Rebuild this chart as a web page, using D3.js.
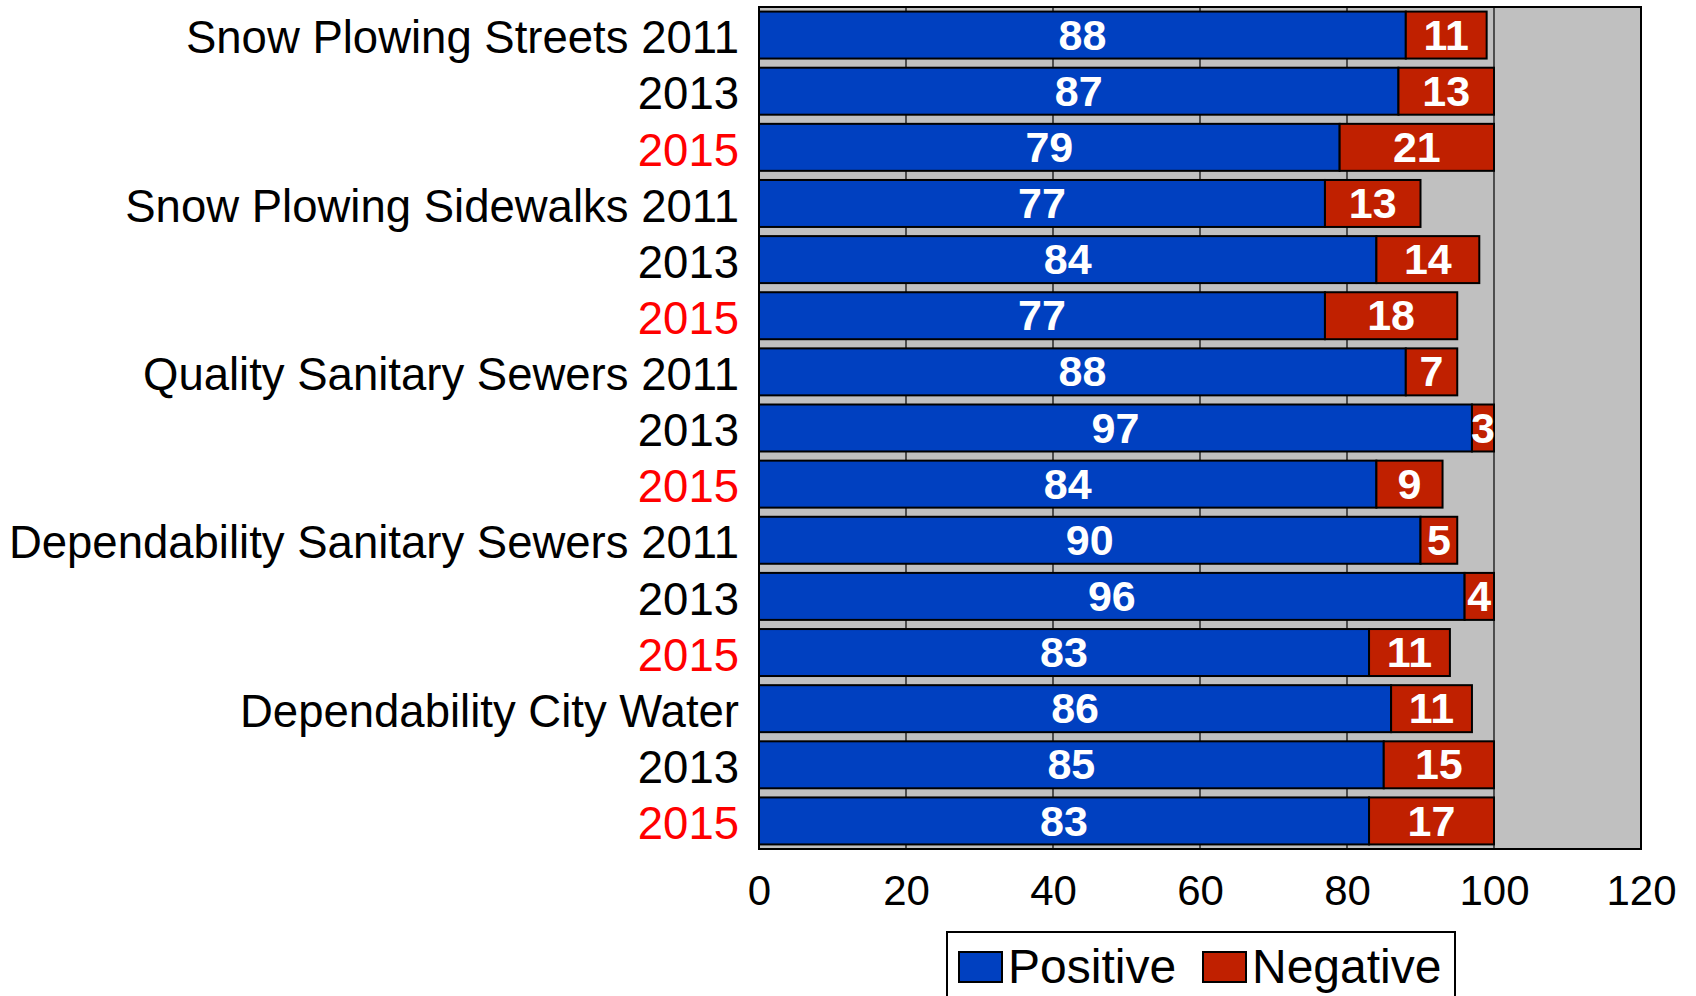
<!DOCTYPE html>
<html>
<head>
<meta charset="utf-8">
<script src="https://cdn.jsdelivr.net/npm/d3@7"></script>
<style>
  html, body { margin: 0; padding: 0; background: #fff; }
  svg { display: block; }
  text { font-family: "Liberation Sans", Arial, sans-serif; }
</style>
</head>
<body>
<svg id="chart" width="1696" height="996"></svg>
<script>
const categories = [
  "Snow Plowing Streets 2011", "2013", "2015",
  "Snow Plowing Sidewalks 2011", "2013", "2015",
  "Quality Sanitary Sewers 2011", "2013", "2015",
  "Dependability Sanitary Sewers 2011", "2013", "2015",
  "Dependability City Water", "2013", "2015"
];
const positive = [88, 87, 79, 77, 84, 77, 88, 97, 84, 90, 96, 83, 86, 85, 83];
const negative = [11, 13, 21, 13, 14, 18, 7, 3, 9, 5, 4, 11, 11, 15, 17];
const xTicks = [0, 20, 40, 60, 80, 100, 120];
const seriesNames = ["Positive", "Negative"];
const seriesColors = ["#0040C0", "#C02000"];

const svg = d3.select("#chart");
const plot = { left: 759, right: 1641, top: 7, bottom: 849 };

const x = d3.scaleLinear().domain([0, 120]).range([plot.left, plot.right]);
const y = d3.scaleBand()
  .domain(d3.range(categories.length))
  .range([plot.top, plot.bottom])
  .paddingInner(0.163)
  .paddingOuter(0.0815);

// plot background
svg.append("rect")
  .attr("x", plot.left).attr("y", plot.top)
  .attr("width", plot.right - plot.left).attr("height", plot.bottom - plot.top)
  .attr("fill", "#C0C0C0");

// gridlines
svg.append("g").selectAll("line")
  .data(xTicks.filter(t => t > 0 && t < 120))
  .join("line")
  .attr("x1", d => x(d)).attr("x2", d => x(d))
  .attr("y1", plot.top).attr("y2", plot.bottom)
  .attr("stroke", "#000").attr("stroke-width", 1.2);

// bars
const rows = categories.map((c, i) => ({ i, c, pos: positive[i], neg: negative[i] }));
const g = svg.append("g");
g.selectAll("rect.pos").data(rows).join("rect")
  .attr("class", "pos")
  .attr("x", x(0)).attr("y", d => y(d.i))
  .attr("width", d => x(d.pos) - x(0)).attr("height", y.bandwidth())
  .attr("fill", seriesColors[0]).attr("stroke", "#000").attr("stroke-width", 2);
g.selectAll("rect.neg").data(rows).join("rect")
  .attr("class", "neg")
  .attr("x", d => x(d.pos)).attr("y", d => y(d.i))
  .attr("width", d => x(d.pos + d.neg) - x(d.pos)).attr("height", y.bandwidth())
  .attr("fill", seriesColors[1]).attr("stroke", "#000").attr("stroke-width", 2);

// value labels
g.selectAll("text.posv").data(rows).join("text")
  .attr("x", d => (x(0) + x(d.pos)) / 2)
  .attr("y", d => y(d.i) + y.bandwidth() / 2)
  .attr("dy", "0.34em")
  .attr("text-anchor", "middle")
  .attr("fill", "#fff").attr("font-weight", "bold").attr("font-size", 43)
  .text(d => d.pos);
g.selectAll("text.negv").data(rows).join("text")
  .attr("x", d => (x(d.pos) + x(d.pos + d.neg)) / 2)
  .attr("y", d => y(d.i) + y.bandwidth() / 2)
  .attr("dy", "0.34em")
  .attr("text-anchor", "middle")
  .attr("fill", "#fff").attr("font-weight", "bold").attr("font-size", 43)
  .text(d => d.neg);

// plot border
svg.append("rect")
  .attr("x", plot.left).attr("y", plot.top)
  .attr("width", plot.right - plot.left).attr("height", plot.bottom - plot.top)
  .attr("fill", "none").attr("stroke", "#000").attr("stroke-width", 2);

// y axis labels
const yAxis = d3.axisLeft(y).tickSize(0).tickPadding(20).tickFormat(i => categories[i]);
const ya = svg.append("g").attr("transform", `translate(${plot.left},0)`).call(yAxis);
ya.select(".domain").remove();
ya.selectAll("text")
  .attr("font-size", 45.5)
  .attr("dy", "0.4em")
  .attr("font-family", "'Liberation Sans', Arial, sans-serif")
  .attr("fill", i => categories[i] === "2015" ? "#FF0000" : "#000");

// x axis labels
const xAxis = d3.axisBottom(x).tickValues(xTicks).tickSize(0).tickPadding(26);
const xa = svg.append("g").attr("transform", `translate(0,${plot.bottom})`).call(xAxis);
xa.select(".domain").remove();
xa.selectAll("text")
  .attr("font-size", 42)
  .attr("font-family", "'Liberation Sans', Arial, sans-serif")
  .attr("fill", "#000");

// legend
const legend = svg.append("g");
legend.append("rect")
  .attr("x", 947).attr("y", 932).attr("width", 508).attr("height", 90)
  .attr("fill", "#fff").attr("stroke", "#000").attr("stroke-width", 2);
const legX = [959, 1203];
seriesNames.forEach((name, k) => {
  legend.append("rect")
    .attr("x", legX[k]).attr("y", 952).attr("width", 43).attr("height", 30)
    .attr("fill", seriesColors[k]).attr("stroke", "#000").attr("stroke-width", 2);
  legend.append("text")
    .attr("x", legX[k] + 49).attr("y", 983)
    .attr("font-size", 48).attr("fill", "#000")
    .text(name);
});
</script>
</body>
</html>
